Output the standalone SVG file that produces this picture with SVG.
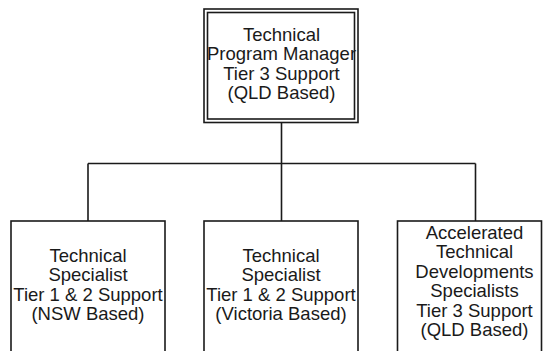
<svg xmlns="http://www.w3.org/2000/svg" width="543" height="351" viewBox="0 0 543 351">
<style>
.box{fill:#fff;stroke:#1a1a1a;stroke-width:1.6}
.ln{fill:none;stroke:#1a1a1a;stroke-width:1.6}
text{font-family:"Liberation Sans",Arial,sans-serif;font-size:18.5px;fill:#1a1a1a;text-anchor:middle}
</style>
<rect width="543" height="351" fill="#fff"/>
<g id="connectors">
<path class="ln" d="M281.5 122 V163.5 M88 163.5 H475.5 M88 163.5 V221 M281.5 163.5 V221 M475.5 163.5 V221"/>
</g>
<g id="manager">
<rect class="box" x="204" y="9" width="154" height="113.5"/>
<rect class="box" x="207.5" y="12.5" width="147" height="106.5"/>
<text x="281.5" y="40.5">Technical</text>
<text x="281.5" y="60">Program Manager</text>
<text x="281.5" y="79.5">Tier 3 Support</text>
<text x="281.5" y="99">(QLD Based)</text>
</g>
<g id="nsw">
<rect class="box" x="11" y="221" width="154" height="140"/>
<text x="88" y="261.5">Technical</text>
<text x="88" y="281">Specialist</text>
<text x="88" y="300.5">Tier 1 &amp; 2 Support</text>
<text x="88" y="320">(NSW Based)</text>
</g>
<g id="victoria">
<rect class="box" x="204" y="221" width="154" height="140"/>
<text x="281" y="261.5">Technical</text>
<text x="281" y="281">Specialist</text>
<text x="281" y="300.5">Tier 1 &amp; 2 Support</text>
<text x="281" y="320">(Victoria Based)</text>
</g>
<g id="qld">
<rect class="box" x="397.5" y="221" width="144" height="140"/>
<text x="474.5" y="238.5">Accelerated</text>
<text x="474.5" y="258">Technical</text>
<text x="474.5" y="277.5">Developments</text>
<text x="474.5" y="297">Specialists</text>
<text x="474.5" y="316.5">Tier 3 Support</text>
<text x="474.5" y="336">(QLD Based)</text>
</g>
</svg>
